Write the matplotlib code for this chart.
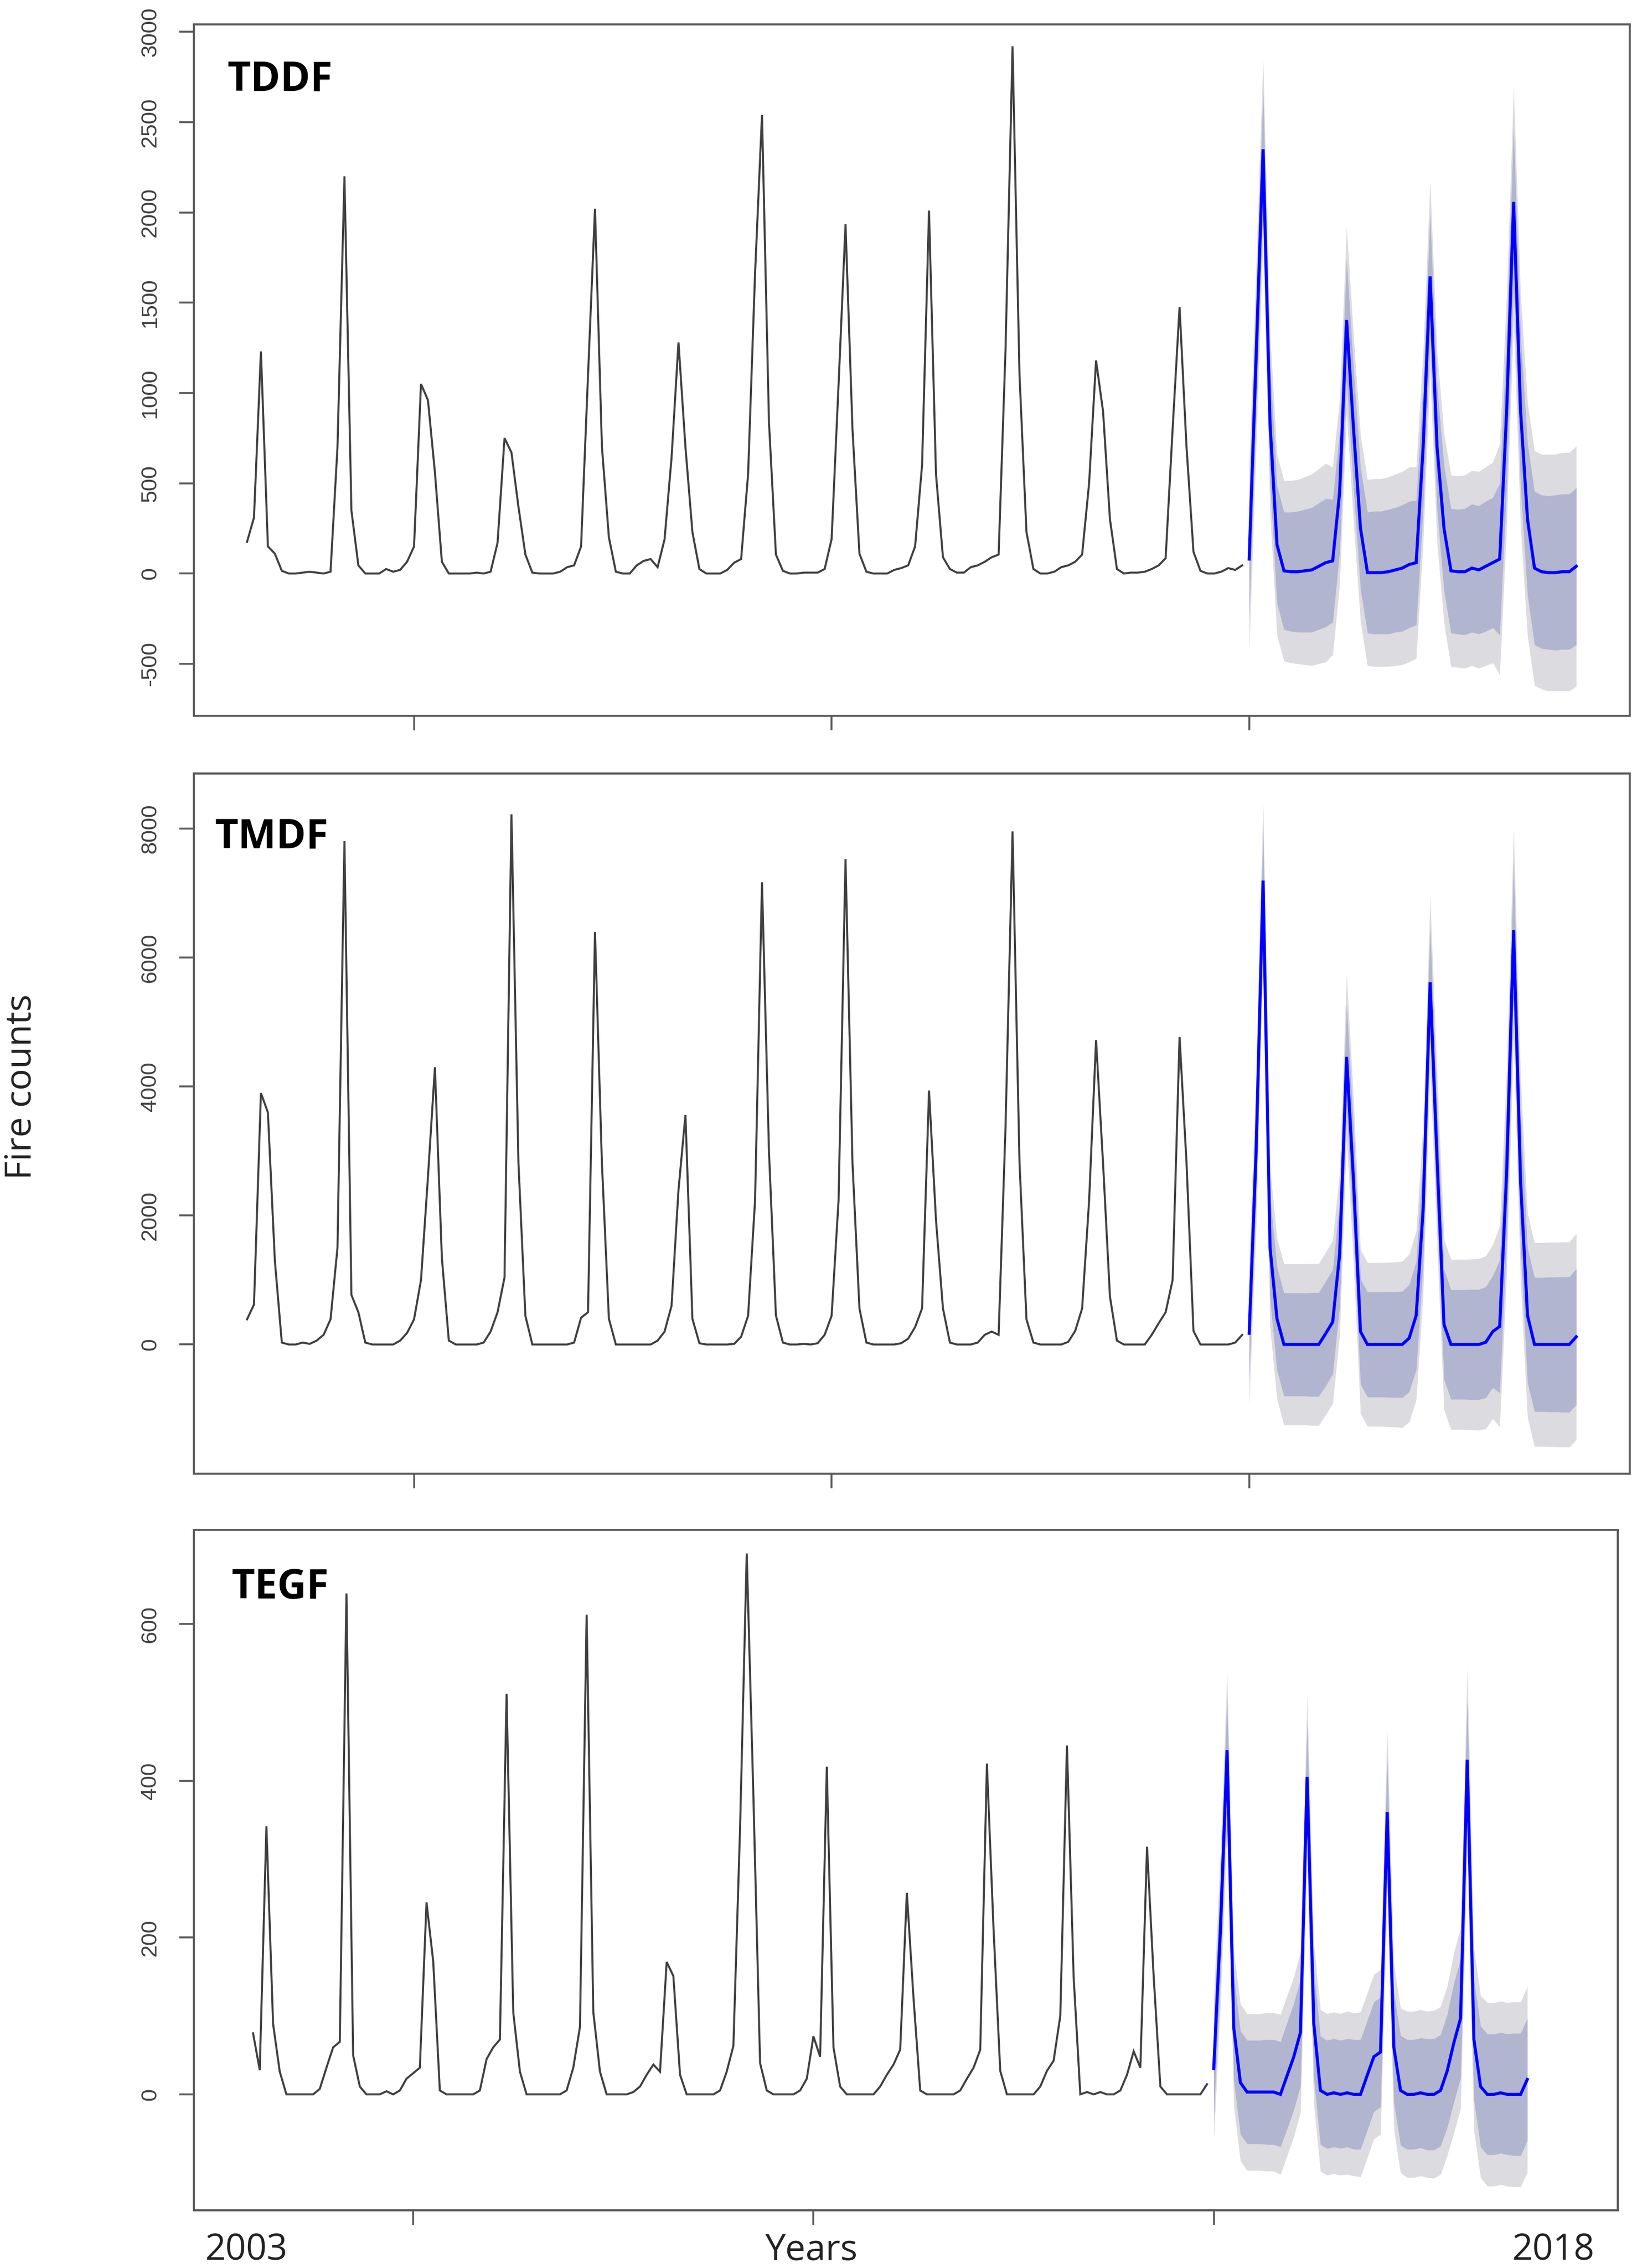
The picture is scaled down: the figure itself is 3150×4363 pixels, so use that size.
"""Fire counts: observed monthly series 2003-2014 and 2015-2018 forecasts."""

import matplotlib
import numpy as np

matplotlib.use("Agg")

from matplotlib import pyplot as plt  # noqa: E402

plt.rcParams["axes.unicode_minus"] = False

# observed monthly fire counts, Jan 2003 .. Dec 2014 (one row per year)
TDDF_OBS = [
    175, 310, 1230, 150, 110, 15, 0, 0, 5, 10, 5, 0,
    10, 700, 2200, 350, 45, 0, 0, 0, 25, 10, 20, 65,
    150, 1050, 960, 560, 65, 0, 0, 0, 0, 5, 0, 10,
    170, 750, 670, 370, 105, 5, 0, 0, 0, 10, 35, 45,
    150, 1100, 2020, 700, 200, 10, 0, 0, 45, 70, 80, 35,
    190, 640, 1280, 700, 230, 25, 0, 0, 0, 20, 60, 80,
    550, 1660, 2540, 840, 105, 15, 0, 0, 5, 5, 5, 25,
    190, 1045, 1935, 800, 110, 10, 0, 0, 0, 20, 30, 45,
    150, 600, 2010, 550, 90, 25, 5, 5, 35, 45, 65, 90,
    105, 1250, 2920, 1100, 230, 25, 0, 0, 10, 35, 45, 65,
    105, 500, 1180, 900, 300, 25, 0, 5, 5, 10, 25, 45,
    85, 800, 1475, 700, 120, 15, 0, 0, 10, 30, 20, 45,
]
TMDF_OBS = [
    390, 620, 3900, 3600, 1300, 30, 0, 0, 30, 10, 60, 150,
    390, 1500, 7810, 770, 500, 30, 0, 0, 0, 0, 60, 180,
    390, 1000, 2600, 4300, 1340, 60, 0, 0, 0, 0, 30, 200,
    500, 1040, 8224, 2820, 445, 0, 0, 0, 0, 0, 0, 30,
    415, 500, 6400, 2800, 400, 0, 0, 0, 0, 0, 0, 60,
    200, 600, 2400, 3560, 400, 20, 0, 0, 0, 0, 10, 120,
    445, 2230, 7170, 3000, 450, 30, 0, 0, 10, 0, 20, 150,
    445, 2230, 7530, 2820, 560, 30, 0, 0, 0, 0, 20, 90,
    270, 560, 3940, 1930, 560, 30, 0, 0, 0, 30, 150, 200,
    150, 3400, 7960, 2820, 390, 30, 0, 0, 0, 0, 40, 210,
    560, 2230, 4720, 2820, 740, 60, 0, 0, 0, 0, 150, 330,
    500, 1000, 4770, 2820, 210, 0, 0, 0, 0, 0, 30, 150,
]
TEGF_OBS = [
    78, 31, 342, 90, 29, 0, 0, 0, 0, 0, 7, 34,
    60, 67, 639, 50, 10, 0, 0, 0, 4, 0, 5, 20,
    27, 34, 245, 170, 5, 0, 0, 0, 0, 0, 5, 45,
    60, 70, 511, 105, 29, 0, 0, 0, 0, 0, 0, 5,
    34, 86, 612, 105, 29, 0, 0, 0, 0, 3, 10, 25,
    38, 29, 169, 151, 25, 0, 0, 0, 0, 0, 5, 29,
    62, 340, 690, 380, 40, 5, 0, 0, 0, 0, 5, 20,
    74, 48, 418, 60, 10, 0, 0, 0, 0, 0, 10, 25,
    38, 57, 257, 123, 5, 0, 0, 0, 0, 0, 5, 20,
    34, 57, 422, 210, 30, 0, 0, 0, 0, 0, 10, 30,
    43, 100, 445, 150, 0, 3, 0, 3, 0, 0, 5, 25,
    55, 34, 316, 150, 10, 0, 0, 0, 0, 0, 0, 13,
]

# point forecasts, Jan 2015 .. Dec 2018
TDDF_FC = [
    80, 1200, 2350, 830, 160, 15, 10, 10, 15, 20, 40, 60,
    70, 450, 1404, 800, 250, 5, 5, 5, 10, 20, 30, 50,
    60, 700, 1646, 700, 250, 15, 10, 10, 30, 20, 40, 60,
    80, 900, 2058, 900, 300, 30, 10, 5, 5, 10, 10, 40,
]
TMDF_FC = [
    174, 3000, 7197, 1500, 400, 0, 0, 0, 0, 0, 0, 170,
    350, 1400, 4462, 2530, 200, 0, 0, 0, 0, 0, 0, 100,
    450, 2100, 5620, 2880, 310, 0, 0, 0, 0, 0, 35, 200,
    280, 2670, 6430, 2530, 450, 0, 0, 0, 0, 0, 0, 120,
]
TEGF_FC = [
    33, 210, 439, 85, 15, 3, 3, 3, 3, 3, 0, 24,
    48, 79, 405, 90, 5, 0, 2, 0, 2, 0, 0, 24,
    48, 54, 360, 60, 5, 0, 0, 2, 0, 0, 5, 30,
    66, 97, 427, 70, 10, 0, 0, 2, 0, 0, 0, 19,
]

# half-widths of the 80% and 95% prediction intervals
TDDF_W80 = [
    330, 325, 325, 325, 325, 325, 330, 335, 340, 345, 350, 355,
    340, 335, 335, 335, 335, 335, 340, 340, 345, 345, 350, 350,
    345, 345, 345, 345, 345, 345, 345, 350, 355, 355, 360, 360,
    420, 420, 420, 420, 420, 425, 425, 425, 430, 430, 430, 435,
]
TDDF_W95 = [
    510, 500, 500, 500, 500, 500, 505, 510, 520, 530, 540, 550,
    520, 515, 515, 515, 515, 515, 520, 520, 525, 530, 535, 540,
    530, 525, 525, 525, 525, 530, 530, 535, 540, 545, 550, 555,
    640, 640, 640, 645, 645, 650, 650, 655, 655, 660, 660, 665,
]
TMDF_W80 = [
    720, 780, 790, 800, 800, 800, 800, 800, 800, 805, 805, 810,
    810, 810, 815, 815, 815, 815, 815, 815, 820, 820, 825, 830,
    840, 845, 845, 850, 850, 850, 850, 850, 855, 855, 860, 870,
    1030, 1035, 1035, 1040, 1040, 1040, 1040, 1045, 1045, 1050, 1050, 1055,
]
TMDF_W95 = [
    1110, 1200, 1220, 1240, 1245, 1250, 1250, 1250, 1250, 1255, 1255, 1260,
    1265, 1265, 1270, 1270, 1270, 1270, 1270, 1270, 1275, 1280, 1290, 1300,
    1310, 1315, 1315, 1320, 1320, 1320, 1320, 1320, 1325, 1330, 1340, 1350,
    1560, 1570, 1570, 1580, 1580, 1580, 1580, 1585, 1585, 1590, 1590, 1600,
]
TEGF_W80 = [
    60, 64, 66, 66, 66, 66, 66, 66, 67, 67, 67, 68,
    68, 68, 69, 69, 69, 69, 69, 69, 69, 70, 70, 70,
    70, 70, 70, 70, 70, 70, 70, 70, 71, 71, 71, 72,
    76, 76, 76, 77, 77, 77, 77, 77, 77, 78, 78, 78,
]
TEGF_W95 = [
    90, 96, 99, 100, 100, 100, 100, 100, 101, 101, 102, 102,
    102, 102, 103, 103, 103, 103, 103, 103, 104, 104, 105, 105,
    105, 105, 105, 105, 105, 106, 106, 106, 106, 107, 107, 108,
    115, 115, 116, 116, 116, 117, 117, 117, 117, 118, 118, 118,
]

PANEL_NAMES = ["TDDF", "TMDF", "TEGF"]
PANEL_YTICKS = [
    [-500, 0, 500, 1000, 1500, 2000, 2500, 3000],
    [0, 2000, 4000, 6000, 8000],
    [0, 200, 400, 600],
]
X_TICKS = [2005, 2010, 2015]

OBS_START = 2003
FC_START = 2015

LINE_COLOR = "#404040"
FC_COLOR = "#0000ff"
OUTER_COLOR = "#dbdbe0"
INNER_COLOR = "#b1b5cf"
AXIS_COLOR = "#5a5a5a"
TICK_TEXT = "#404040"


def draw_panel(ax, obs, fc, w80, w95, yticks, ylim, xlim, name, name_xy):
    """Draw one observed series with its forecast fan."""
    obs = np.asarray(obs, dtype=float)
    fc = np.asarray(fc, dtype=float)
    w80 = np.asarray(w80, dtype=float)
    w95 = np.asarray(w95, dtype=float)
    obs_t = OBS_START + np.arange(len(obs)) / 12
    fc_t = FC_START + np.arange(len(fc)) / 12

    ax.fill_between(fc_t, fc - w95, fc + w95, color=OUTER_COLOR, lw=0)
    ax.fill_between(fc_t, fc - w80, fc + w80, color=INNER_COLOR, lw=0)
    ax.plot(obs_t, obs, color=LINE_COLOR, lw=2.8, solid_joinstyle="miter")
    ax.plot(fc_t, fc, color=FC_COLOR, lw=4.2, solid_joinstyle="miter")

    ax.set_xlim(*xlim)
    ax.set_ylim(*ylim)
    ax.set_xticks(X_TICKS)
    ax.set_xticklabels([])
    ax.set_yticks(yticks)
    ax.set_yticklabels([str(v) for v in yticks])
    ax.tick_params(
        axis="both",
        direction="out",
        length=20,
        width=2.6,
        color=AXIS_COLOR,
        labelsize=31,
        labelcolor=TICK_TEXT,
        pad=26,
    )
    for label in ax.get_yticklabels():
        label.set_rotation(90)
        label.set_va("center")
        label.set_family("Liberation Sans")
    for spine in ax.spines.values():
        spine.set_color(AXIS_COLOR)
        spine.set_linewidth(2.8)

    ax.text(
        name_xy[0],
        name_xy[1],
        name,
        transform=ax.transAxes,
        ha="left",
        va="center",
        fontsize=56,
        fontweight="bold",
        family="Open Sans",
        color="black",
    )


def main() -> None:
    fig = plt.figure(figsize=(31.5, 43.63), dpi=100)

    ax1 = fig.add_axes([0.1184, 0.6844, 0.877, 0.3048])
    ax2 = fig.add_axes([0.1184, 0.3502, 0.877, 0.3087])
    ax3 = fig.add_axes([0.1184, 0.0254, 0.870, 0.3000])

    wide_x = (2002.363, 2019.554)
    draw_panel(ax1, TDDF_OBS, TDDF_FC, TDDF_W80, TDDF_W95, PANEL_YTICKS[0],
               (-788, 3041), wide_x, PANEL_NAMES[0], (0.0235, 0.920))
    draw_panel(ax2, TMDF_OBS, TMDF_FC, TMDF_W80, TMDF_W95, PANEL_YTICKS[1],
               (-2005, 8856), wide_x, PANEL_NAMES[1], (0.0145, 0.909))
    draw_panel(ax3, TEGF_OBS, TEGF_FC, TEGF_W80, TEGF_W95, PANEL_YTICKS[2],
               (-148, 720), (2002.26, 2020.05), PANEL_NAMES[2], (0.0266, 0.915))

    text_style = dict(fontsize=50, family="Open Sans", color="#222222")
    fig.text(0.0133, 0.5208, "Fire counts", rotation=90, ha="center",
             va="center", **text_style)
    fig.text(0.1505, 0.0076, "2003", ha="center", va="center", **text_style)
    fig.text(0.4956, 0.0076, "Years", ha="center", va="center", **text_style)
    fig.text(0.9490, 0.0076, "2018", ha="center", va="center", **text_style)

    fig.savefig("out.png", dpi=100, facecolor="white")
    plt.close(fig)


if __name__ == "__main__":
    main()
